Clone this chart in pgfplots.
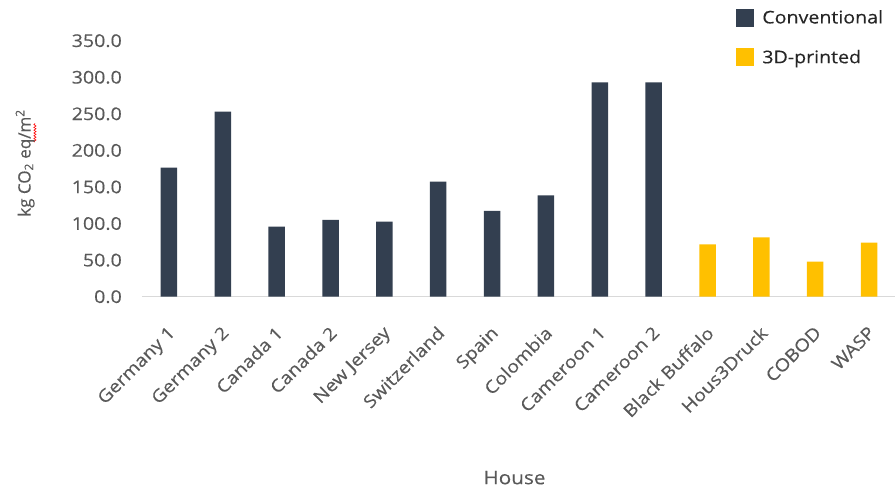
\documentclass[border=0pt]{standalone}
\usepackage{pgfplots}
\pgfplotsset{compat=1.18}
\usepackage{fontspec}
\setmainfont{Open Sans}[FakeStretch=1.12, FakeBold=0.3]
\newfontfamily\uprightlabel{Open Sans}[FakeBold=0.3]
\usetikzlibrary{decorations.pathmorphing}

\definecolor{conv}{HTML}{333F50}
\definecolor{printed}{HTML}{FFC000}
\definecolor{txt}{HTML}{595959}
\definecolor{baseline}{HTML}{D9D9D9}

\begin{document}
\begin{tikzpicture}
\useasboundingbox (0,0) rectangle (895pt,492pt);
\begin{axis}[
  at={(142pt,195.3pt)}, anchor=south west,
  scale only axis, width=754pt, height=256pt,
  ybar, bar width=16.5pt, bar shift=0pt,
  xmin=-0.5, xmax=13.5, ymin=0, ymax=350,
  xtick={0,...,13},
  xticklabels={Germany 1,Germany 2,Canada 1,Canada 2,New Jersey,Switzerland,Spain,Colombia,Cameroon 1,Cameroon 2,Black Buffalo,Hous3Druck,COBOD,WASP},
  ytick={0,50,...,350},
  /pgf/number format/assume math mode=true,
  yticklabel={\pgfmathprintnumber[fixed,fixed zerofill,precision=1]{\tick}},
  major tick length=0pt,
  axis lines*=left,
  x axis line style={draw=baseline, line width=0.8pt},
  y axis line style={draw=none},
  ticklabel style={font=\fontsize{17.5}{20}\selectfont, text=txt},
  yticklabel style={anchor=east, inner sep=0pt, xshift=-20pt},
  xticklabel style={inner sep=0pt, xshift=-2pt, yshift=-28pt, rotate=45, anchor=north east},
  xlabel={House},
  xlabel style={at={(axis description cs:0.494,-0.707)}, anchor=center, font=\fontsize{18.5}{22}\selectfont, text=txt},
  ylabel={kg CO\textsubscript{2} eq/m\textsuperscript{2}},
  ylabel style={at={(axis description cs:-0.155,0.522)}, anchor=center, rotate=0, font=\uprightlabel\fontsize{17}{20}\selectfont, text=txt},
  legend style={
    at={(axis description cs:0.788,1.128)}, anchor=north west,
    draw=none, fill=none, inner sep=0pt,
    font=\fontsize{17.5}{21}\selectfont, text=black!85,
    row sep=21pt,
    /tikz/every odd column/.append style={column sep=6pt},
  },
  legend cell align=left,
  legend image code/.code={\fill[#1] (0pt,-9pt) rectangle (18pt,9pt);},
  clip=false,
]
% conventional houses
\addplot[fill=conv, draw=none] coordinates {
  (0,176.4) (1,253.0) (2,95.7) (3,104.9) (4,102.6)
  (5,157.3) (6,117.2) (7,138.6) (8,293.1) (9,293.1)
};
\addlegendentry{Conventional}
% 3D-printed houses
\addplot[fill=printed, draw=none] coordinates {
  (10,71.6) (11,81.2) (12,47.9) (13,73.8)
};
\addlegendentry{3D-printed}
% spell-check underline beneath "eq"
\draw[red, line width=0.6pt, decorate, decoration={zigzag, amplitude=1.1pt, segment length=2.8pt}]
  (axis description cs:-0.142,0.604) -- (axis description cs:-0.142,0.678);
\end{axis}
\end{tikzpicture}
\end{document}
